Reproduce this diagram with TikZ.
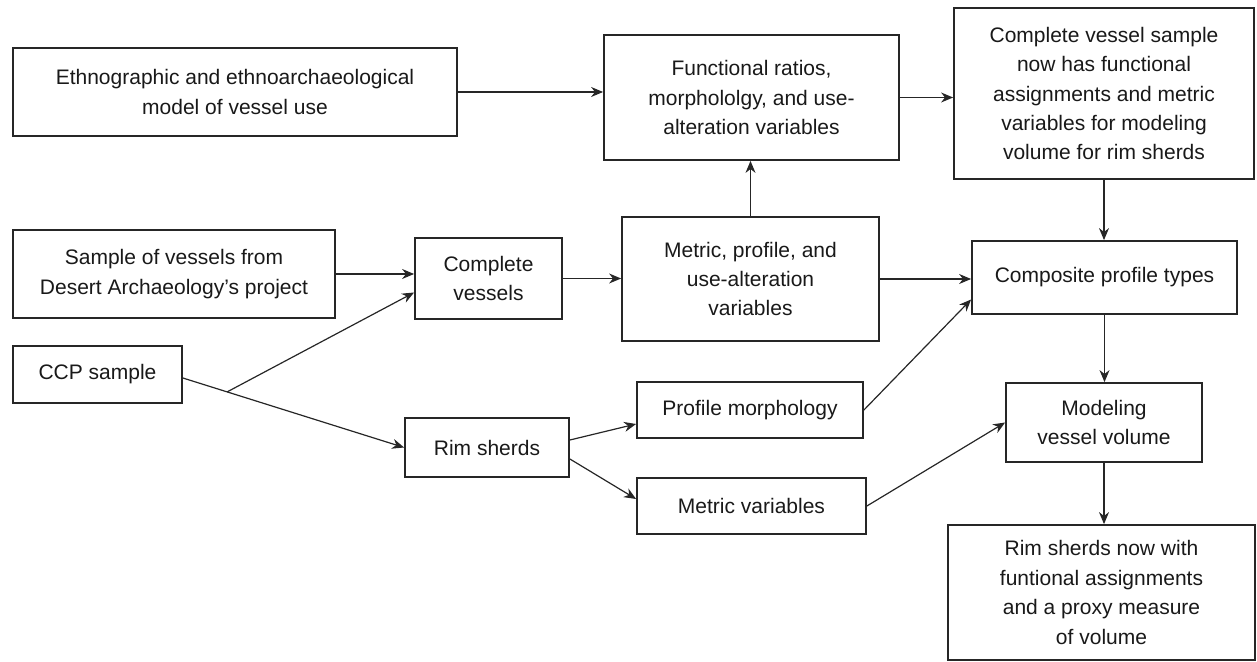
\documentclass[tikz,border=0pt]{standalone}
\usepackage{fontspec}
\setmainfont{Liberation Sans}
\usetikzlibrary{arrows.meta,calc}

\tikzset{
  box/.style={draw=black!85, line width=0.9pt, fill=white, inner sep=0pt,
    align=center, text=black!90, font=\fontsize{10.5pt}{14.7pt}\selectfont},
  flow/.style={draw=black!85, line width=0.6pt,
    -{Stealth[length=6pt,width=5pt]}},
  plain/.style={draw=black!85, line width=0.6pt}
}

\begin{document}
\begin{tikzpicture}[x=0.5pt, y=-0.5pt]
  % page frame
  \useasboundingbox (0,0) rectangle (1257,662);

  % boxes
  \node[box, minimum width=222pt, minimum height=44pt] (eth) at (235,92)
    {Ethnographic and ethnoarchaeological\\model of vessel use};
  \node[box, minimum width=147.5pt, minimum height=62.5pt] (func) at (751.5,97.5)
    {Functional ratios,\\morphololgy, and use-\\alteration variables};
  \node[box, minimum width=150pt, minimum height=85.5pt] (cvs) at (1104,93.5)
    {Complete vessel sample\\now has functional\\assignments and metric\\variables for modeling\\volume for rim sherds};
  \node[box, minimum width=161pt, minimum height=44pt] (samp) at (174,274)
    {Sample of vessels from\\Desert Archaeology's project};
  \node[box, minimum width=73.5pt, minimum height=40.5pt] (cv) at (488.5,278.5)
    {Complete\\vessels};
  \node[box, minimum width=128.5pt, minimum height=62pt] (metric) at (750.5,279)
    {Metric, profile, and\\use-alteration\\variables};
  \node[box, minimum width=132.5pt, minimum height=36.5pt] (comp) at (1104.5,277.5)
    {Composite profile types};
  \node[box, minimum width=84.5pt, minimum height=28.5pt] (ccp) at (97.5,374.5)
    {CCP sample};
  \node[box, minimum width=82pt, minimum height=29.5pt] (rim) at (487,447.5)
    {Rim sherds};
  \node[box, minimum width=113pt, minimum height=28pt] (prof) at (750,410)
    {Profile morphology};
  \node[box, minimum width=114.5pt, minimum height=28pt] (mvar) at (751.5,506)
    {Metric variables};
  \node[box, minimum width=98pt, minimum height=39.5pt] (model) at (1104,422.5)
    {Modeling\\vessel volume};
  \node[box, minimum width=153.5pt, minimum height=67.5pt] (rimnow) at (1101.5,592.5)
    {Rim sherds now with\\funtional assignments\\and a proxy measure\\of volume};

  % connectors
  \draw[flow] (eth.east) -- (eth.east -| func.west);
  \draw[flow] (func.east) -- (func.east -| cvs.west);
  \draw[flow] (metric.north) -- (metric.north |- func.south);
  \draw[flow] (cvs.south) -- (cvs.south |- comp.north);
  \draw[flow] (samp.east) -- (samp.east -| cv.west);
  \draw[flow] (cv.east) -- (cv.east -| metric.west);
  \draw[flow] (metric.east) -- (metric.east -| comp.west);

  \coordinate (split) at ($([yshift=-1.75pt]ccp.east)!0.2!(rim.west)$);
  \draw[flow] ([yshift=-1.75pt]ccp.east) -- (rim.west);
  \draw[flow] (split) -- ([yshift=-7pt]cv.west);

  \draw[flow] ([yshift=3.75pt]rim.east) -- ([yshift=-7pt]prof.west);
  \draw[flow] ([yshift=-5.75pt]rim.east) -- ([yshift=3.5pt]mvar.west);
  \draw[flow] (prof.east) -- ([yshift=-11pt]comp.west);
  \draw[flow] (mvar.east) -- (model.west);
  \draw[flow] (comp.south) -- (comp.south |- model.north);
  \draw[flow] (model.south) -- (model.south |- rimnow.north);
\end{tikzpicture}
\end{document}
